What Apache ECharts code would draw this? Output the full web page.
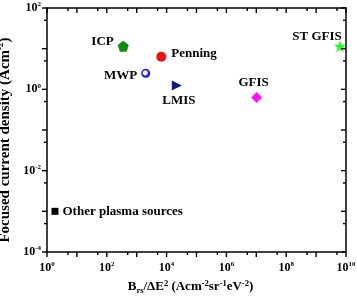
<!DOCTYPE html>
<html><head><meta charset="utf-8">
<script src="https://cdn.jsdelivr.net/npm/echarts@6/dist/echarts.min.js"></script>
<style>html,body{margin:0;padding:0;background:#fff}#c{width:357px;height:297px}</style>
</head><body><div id="c"></div>
<script>
const names = ['ICP', 'Penning', 'MWP', 'LMIS', 'GFIS', 'ST GFIS', 'Other plasma sources'];
const brightness = [355, 6650, 2000, 22000, 1.03e7, 6.3e9, 1.85];
const density = [11.4, 6.3, 2.47, 1.24, 0.63, 11.5, 0.001];

// tick positions
const xMajorTicks = [1, 10, 100, 1e3, 1e4, 1e5, 1e6, 1e7, 1e8, 1e9, 1e10];
const xMinorTicks = [5, 50, 500, 5e3, 5e4, 5e5, 5e6, 5e7, 5e8, 5e9];
const xLabelValues = [1, 1e2, 1e4, 1e6, 1e8, 1e10];
const yMajorTicks = [1e-4, 1e-3, 1e-2, 1e-1, 1, 10, 100];
const yMinorTicks = [5e-4, 5e-3, 5e-2, 0.5, 5, 50];
const yLabelValues = [1e-4, 1e-2, 1, 1e2];

const F = '"Liberation Serif", "Times New Roman", serif';
const chart = echarts.init(document.getElementById('c'));
const lg = v => Math.log10(v);
const X0 = lg(xLabelValues[0]), X1 = lg(xLabelValues[xLabelValues.length - 1]);
const Y0 = lg(yLabelValues[0]), Y1 = lg(yLabelValues[yLabelValues.length - 1]);

const pow10 = v => '{b|10}{s|' + Math.round(v) + '}';
const labelRich = {
  b: {fontSize: 12, fontWeight: 'bold', fontFamily: F, color: '#000', lineHeight: 14},
  s: {fontSize: 7, fontWeight: 'bold', fontFamily: F, color: '#000', verticalAlign: 'top', lineHeight: 8}
};
const lineStyle = {color: '#000', width: 1.5};

function axis(dim, pos, labels, extra) {
  const isX = dim === 'x';
  return Object.assign({
    type: 'value',
    min: isX ? X0 : Y0, max: isX ? X1 : Y1, interval: 1,
    position: pos,
    axisLine: {show: true, onZero: false, lineStyle: lineStyle},
    axisTick: {show: false},
    axisLabel: labels ? {show: true, customValues: labels.map(lg), formatter: pow10, rich: labelRich, margin: isX ? 9 : 6, hideOverlap: false} : {show: false},
    splitLine: {show: false},
    minorTick: {show: false}
  }, extra || {});
}

const xName = '{m|B}{sub|rs}{m|/ΔE}{sup|2}{m| (Acm}{sup|-2}{m|sr}{sup|-1}{m|eV}{sup|-2}{m|)}';
const yName = '{m|Focused current density (Acm}{sup|-2}{m|)}';
const nameRich = {
  m: {fontSize: 13, fontWeight: 'bold', fontFamily: F, color: '#000', lineHeight: 16},
  sup: {fontSize: 8.5, fontWeight: 'bold', fontFamily: F, color: '#000', verticalAlign: 'top', lineHeight: 9},
  sub: {fontSize: 8.5, fontWeight: 'bold', fontFamily: F, color: '#000', verticalAlign: 'bottom', lineHeight: 9}
};
const yNameRich = {
  m: {fontSize: 15, fontWeight: 'bold', fontFamily: F, color: '#000', lineHeight: 17},
  sup: {fontSize: 9, fontWeight: 'bold', fontFamily: F, color: '#000', verticalAlign: 'top', lineHeight: 9}
};

const xAxes = [
  axis('x', 'bottom', xLabelValues, {
    name: xName, nameLocation: 'middle', nameGap: 21,
    nameTextStyle: {rich: nameRich, padding: [0, 12, 0, 0]}
  }),
  axis('x', 'top', null)
];
const yAxes = [
  axis('y', 'left', yLabelValues, {
    name: yName, nameLocation: 'middle', nameGap: 29, nameRotate: 90,
    nameTextStyle: {rich: yNameRich, padding: [0, 20, 0, 0]}
  }),
  axis('y', 'right', null)
];

// tick marks drawn through the axes' own scales: bottom/left outward, top/right inward
function tickSeries(values, dim, len) {
  return {
    type: 'custom', xAxisIndex: 0, yAxisIndex: 0, clip: false, silent: true, z: 6,
    data: values.map(v => dim === 'x' ? [lg(v), Y0] : [X0, lg(v)]),
    renderItem: (params, api) => {
      const st = {stroke: '#000', lineWidth: 1.4};
      if (dim === 'x') {
        const v = api.value(0);
        const a = api.coord([v, Y0]), b = api.coord([v, Y1]);
        return {type: 'group', children: [
          {type: 'line', shape: {x1: a[0], y1: a[1], x2: a[0], y2: a[1] + len}, style: st},
          {type: 'line', shape: {x1: b[0], y1: b[1], x2: b[0], y2: b[1] + len}, style: st}
        ]};
      }
      const v = api.value(1);
      const a = api.coord([X0, v]), b = api.coord([X1, v]);
      return {type: 'group', children: [
        {type: 'line', shape: {x1: a[0], y1: a[1], x2: a[0] - len, y2: a[1]}, style: st},
        {type: 'line', shape: {x1: b[0], y1: b[1], x2: b[0] - len, y2: b[1]}, style: st}
      ]};
    }
  };
}

const star = 'path://M0,-10 L2.35,-3.24 L9.51,-3.09 L3.80,1.24 L5.88,8.09 L0,4 L-5.88,8.09 L-3.80,1.24 L-9.51,-3.09 L-2.35,-3.24 Z';
const pentagon = 'path://M0,-10 L9.51,-3.09 L5.88,8.09 L-5.88,8.09 L-9.51,-3.09 Z';
const styles = [
  {symbol: pentagon, size: 11, color: '#108a10', label: {position: 'left', distance: 4, offset: [0, -5]}},
  {symbol: 'circle', size: 10, color: '#f01010', label: {position: 'right', distance: 5, offset: [0, -3]}},
  {symbol: 'circle', size: 9, color: {type: 'radial', x: 0.45, y: 0.45, r: 0.6, colorStops: [{offset: 0, color: '#ffffff'}, {offset: 0.35, color: '#ffffff'}, {offset: 0.55, color: '#2a2aff'}, {offset: 1, color: '#0000d0'}]}, label: {position: 'left', distance: 4, offset: [0, 2]}},
  {symbol: 'triangle', size: [10, 10], rotate: -90, color: '#0a1a80', label: {position: 'bottom', distance: 3, offset: [2, 1]}},
  {symbol: 'diamond', size: [11, 11], color: '#ff10ff', label: {position: 'top', distance: 3, offset: [-3, 0]}},
  {symbol: star, size: 12, color: '#20ff20', label: {position: 'top', distance: 0, offset: [-23, 3]}},
  {symbol: 'rect', size: 7, color: '#000', label: {position: 'right', distance: 4, offset: [0, 0]}}
];

const series = names.map((n, i) => {
  const s = styles[i];
  return {
    type: 'scatter', name: n, xAxisIndex: 0, yAxisIndex: 0,
    symbol: s.symbol, symbolSize: s.size, symbolRotate: s.rotate || 0,
    itemStyle: {color: s.color, opacity: 1},
    label: Object.assign({show: true, formatter: n, color: '#000', fontSize: 13, fontWeight: 'bold', fontFamily: F}, s.label),
    data: [[lg(brightness[i]), lg(density[i])]],
    animation: false
  };
}).concat([
  tickSeries(xMajorTicks, 'x', 5),
  tickSeries(xMinorTicks, 'x', 3),
  tickSeries(yMajorTicks, 'y', 5),
  tickSeries(yMinorTicks, 'y', 3)
]);

chart.setOption({
  animation: false,
  backgroundColor: '#fff',
  grid: {left: 47, right: 11, top: 8, bottom: 45, containLabel: false, outerBoundsMode: 'none'},
  xAxis: xAxes,
  yAxis: yAxes,
  series: series
});
</script></body></html>
